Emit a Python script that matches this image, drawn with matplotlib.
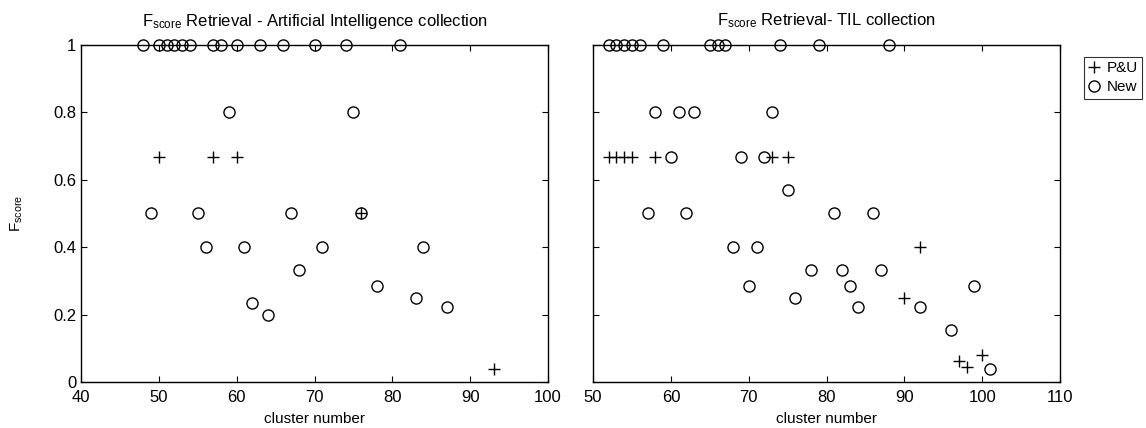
import matplotlib
matplotlib.use('Agg')
import matplotlib.pyplot as plt

plt.rcParams['font.family'] = ['Liberation Sans', 'DejaVu Sans']
plt.rcParams['mathtext.fontset'] = 'custom'
plt.rcParams['mathtext.rm'] = 'Liberation Sans'
plt.rcParams['mathtext.it'] = 'Liberation Sans'

# Artificial Intelligence collection
ai_pu_x = [50, 57, 60, 76, 93]
ai_pu_y = [0.667, 0.667, 0.667, 0.5, 0.04]
ai_new_x = [48, 50, 51, 52, 53, 54, 57, 58, 60, 63, 66, 70, 74, 81,
            59, 75, 49, 55, 67, 76, 56, 61, 71, 84, 68, 78, 83, 87, 62, 64]
ai_new_y = [1, 1, 1, 1, 1, 1, 1, 1, 1, 1, 1, 1, 1, 1,
            0.8, 0.8, 0.5, 0.5, 0.5, 0.5, 0.4, 0.4, 0.4, 0.4,
            0.333, 0.286, 0.25, 0.222, 0.235, 0.2]

# TIL collection
til_pu_x = [52, 53, 54, 55, 58, 73, 75, 92, 90, 97, 98, 100]
til_pu_y = [0.667, 0.667, 0.667, 0.667, 0.667, 0.667, 0.667, 0.4, 0.25, 0.0625, 0.045, 0.08]
til_new_x = [52, 53, 54, 55, 56, 59, 65, 66, 67, 74, 79, 88,
             58, 61, 63, 73, 60, 69, 72, 75, 57, 62, 81, 86, 68, 71,
             78, 82, 87, 70, 83, 99, 76, 84, 92, 96, 101]
til_new_y = [1, 1, 1, 1, 1, 1, 1, 1, 1, 1, 1, 1,
             0.8, 0.8, 0.8, 0.8, 0.667, 0.667, 0.667, 0.571,
             0.5, 0.5, 0.5, 0.5, 0.4, 0.4,
             0.333, 0.333, 0.333, 0.286, 0.286, 0.286, 0.25,
             0.222, 0.222, 0.154, 0.04]

fig = plt.figure(figsize=(11.46, 4.28), dpi=100)
ax1 = fig.add_axes([0.0707, 0.1075, 0.4075, 0.7874])
ax2 = fig.add_axes([0.5175, 0.1075, 0.4075, 0.7874])

panels = [
    (ax1, ai_pu_x, ai_pu_y, ai_new_x, ai_new_y, (40, 100),
     r'F$_{\rm score}$ Retrieval - Artificial Intelligence collection'),
    (ax2, til_pu_x, til_pu_y, til_new_x, til_new_y, (50, 110),
     r'F$_{\rm score}$ Retrieval- TIL collection'),
]

for ax, px, py, nx, ny, xl, title in panels:
    h1, = ax.plot(px, py, '+', color='k', ms=9, mew=1.0, clip_on=False, label='P&U')
    h2, = ax.plot(nx, ny, 'o', mfc='none', mec='k', ms=8, mew=1.0, clip_on=False, label='New')
    ax.set_xlim(*xl)
    ax.set_ylim(0, 1)
    ax.set_xticks(range(xl[0], xl[1] + 1, 10))
    ax.set_yticks([0, 0.2, 0.4, 0.6, 0.8, 1])
    ax.tick_params(direction='in', top=True, right=True, length=4, labelsize=12, colors='k')
    ax.tick_params(axis='x', pad=6)
    ax.set_xlabel('cluster number', fontsize=11, labelpad=5)
    ax.set_title(title, fontsize=12, pad=14)
    for s in ax.spines.values():
        s.set_linewidth(1.0)

ax1.set_yticklabels(['0', '0.2', '0.4', '0.6', '0.8', '1'])
ax1.set_ylabel(r'F$_{\rm score}$', fontsize=11, labelpad=20)
ax2.set_yticklabels([])

leg = fig.legend([h1, h2], ['P&U', 'New'], loc='upper left',
                 bbox_to_anchor=(0.939, 0.885), fontsize=11, frameon=True,
                 fancybox=False, edgecolor='k', handlelength=0.8,
                 handletextpad=0.4, borderpad=0.3, labelspacing=0.3)
leg.get_frame().set_linewidth(0.8)

plt.savefig('out.png', dpi=100)
